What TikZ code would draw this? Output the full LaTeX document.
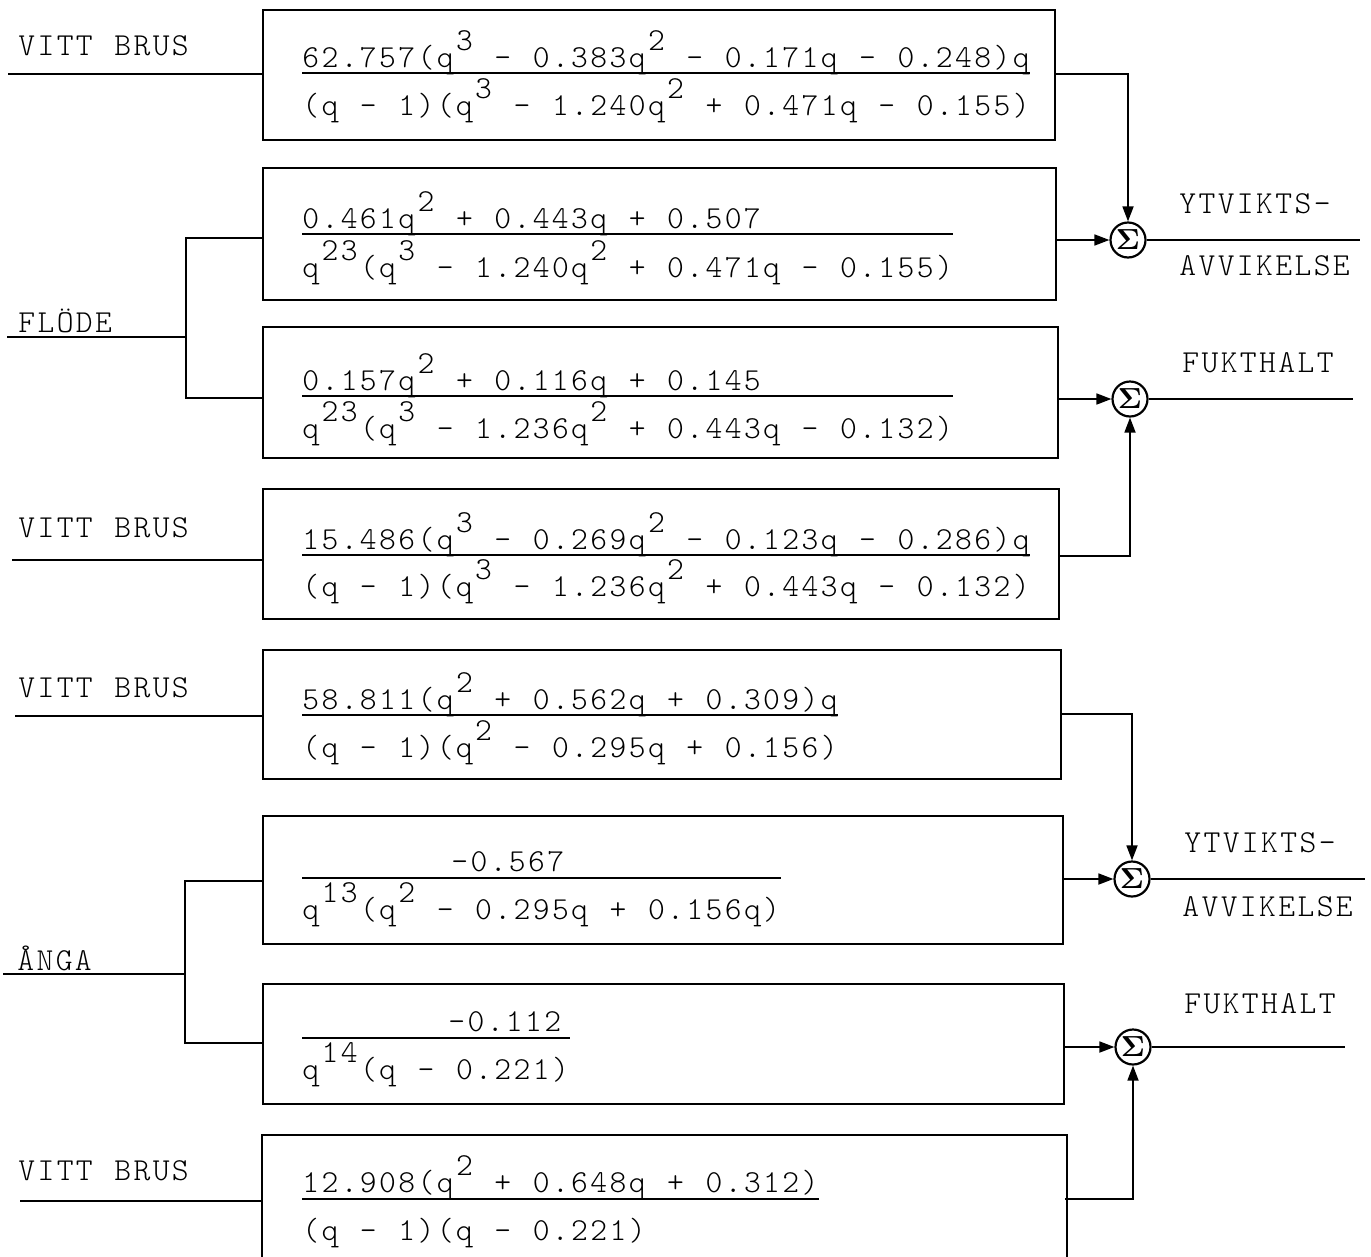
\documentclass[tikz,border=0pt]{standalone}
\usepackage{graphicx}
\usetikzlibrary{arrows.meta}
\newdimen\twpitch \twpitch=19.2pt
\newdimen\twraise \twraise=17pt
\makeatletter
\newcommand\tw[1]{\twloop#1\relax}
\def\twloop{\futurelet\twnext\twcheck}
\def\twcheck{%
  \ifx\twnext\relax \let\twdo\@gobble
  \else\ifx\twnext\@sptoken \let\twdo\twspace
  \else \let\twdo\twchar \fi\fi
  \twdo}
\def\twspace{\hbox to\twpitch{\hss}\afterassignment\twloop\let\twtmp= }
\def\twchar#1{\ifx#1^\expandafter\twsup\else\hbox to\twpitch{\hss#1\hss}\expandafter\twloop\fi}
\def\twsup#1{\hbox to\twpitch{\hss\smash{\raise\twraise\hbox{#1}}\hss}\twloop}
\makeatother
\newcommand\sumsign{\scalebox{2.9}{$\mathbf{\Sigma}$}}
\begin{document}
\begin{tikzpicture}[x=1pt,y=1pt,
  box/.style={draw, line width=2.2pt, inner sep=0pt, anchor=north west},
  txt/.style={inner sep=0pt, anchor=base west, font=\fontsize{32}{32}\ttfamily\fontseries{l}\selectfont},
  wire/.style={line width=1.7pt},
  arr/.style={line width=1.7pt, -{Triangle[length=15pt,width=11pt]}},
  fbar/.style={line width=1.4pt},
  sum/.style={draw, circle, line width=2.2pt, minimum size=35pt, inner sep=0pt}]
\useasboundingbox (0,0) rectangle (1371,-1256);

% boxes
\node[box, minimum width=792pt, minimum height=130pt] (b1) at (262,-9) {};
\node[box, minimum width=793pt, minimum height=132pt] (b2) at (262,-167) {};
\node[box, minimum width=795pt, minimum height=131pt] (b3) at (262,-326) {};
\node[box, minimum width=796pt, minimum height=130pt] (b4) at (262,-488) {};
\node[box, minimum width=798pt, minimum height=129pt] (b5) at (262,-649) {};
\node[box, minimum width=800pt, minimum height=128pt] (b6) at (262,-815) {};
\node[box, minimum width=801pt, minimum height=120pt] (b7) at (262,-983) {};
\node[box, draw=none, minimum width=803pt, minimum height=121pt] (b8) at (262,-1135) {};
\draw[line width=2.2pt] (b8.south west) -- (b8.north west) -- (b8.north east) -- (b8.south east);

% transfer functions
\node[txt] (n1) at (301,-67) {\tw{62.757(q^3 - 0.383q^2 - 0.171q - 0.248)q}};
\node[txt] (d1) at (301,-115) {\tw{(q - 1)(q^3 - 1.240q^2 + 0.471q - 0.155)}};
\draw[fbar] (302,-73) -- (1030,-73);

\node[txt] (n2) at (301,-228) {\tw{0.461q^2 + 0.443q + 0.507}};
\node[txt] (d2) at (301,-277) {\tw{q^2^3(q^3 - 1.240q^2 + 0.471q - 0.155)}};
\draw[fbar] (302,-234) -- (953,-234);

\node[txt] (n3) at (301,-390) {\tw{0.157q^2 + 0.116q + 0.145}};
\node[txt] (d3) at (301,-438) {\tw{q^2^3(q^3 - 1.236q^2 + 0.443q - 0.132)}};
\draw[fbar] (302,-396) -- (953,-396);

\node[txt] (n4) at (301,-549) {\tw{15.486(q^3 - 0.269q^2 - 0.123q - 0.286)q}};
\node[txt] (d4) at (301,-596) {\tw{(q - 1)(q^3 - 1.236q^2 + 0.443q - 0.132)}};
\draw[fbar] (302,-555) -- (1030,-555);

\node[txt] (n5) at (301,-709) {\tw{58.811(q^2 + 0.562q + 0.309)q}};
\node[txt] (d5) at (301,-757) {\tw{(q - 1)(q^2 - 0.295q + 0.156)}};
\draw[fbar] (302,-715) -- (838,-715);

\node[txt] (n6) at (450,-871) {\tw{-0.567}};
\node[txt] (d6) at (301,-919) {\tw{q^1^3(q^2 - 0.295q + 0.156q)}};
\draw[fbar] (302,-878) -- (781,-878);

\node[txt] (n7) at (447,-1031) {\tw{-0.112}};
\node[txt] (d7) at (301,-1079) {\tw{q^1^4(q - 0.221)}};
\draw[fbar] (302,-1038) -- (570,-1038);

\node[txt] (n8) at (301,-1192) {\tw{12.908(q^2 + 0.648q + 0.312)}};
\node[txt] (d8) at (301,-1240) {\tw{(q - 1)(q - 0.221)}};
\draw[fbar] (302,-1199) -- (819,-1199);

% input labels
\node[txt] (l1) at (17,-55) {\tw{VITT BRUS}};
\node[txt] (l2) at (17,-332) {\tw{FLÖDE}};
\node[txt] (l3) at (17,-537) {\tw{VITT BRUS}};
\node[txt] (l4) at (17,-697) {\tw{VITT BRUS}};
\node[txt] (l5) at (16,-970) {\tw{ÅNGA}};
\node[txt] (l6) at (17,-1180) {\tw{VITT BRUS}};

% output labels
\node[txt] (r1) at (1178,-213) {\tw{YTVIKTS-}};
\node[txt] (r2) at (1178,-275) {\tw{AVVIKELSE}};
\node[txt] (r3) at (1181,-372) {\tw{FUKTHALT}};
\node[txt] (r4) at (1183,-852) {\tw{YTVIKTS-}};
\node[txt] (r5) at (1181,-916) {\tw{AVVIKELSE}};
\node[txt] (r6) at (1183,-1013) {\tw{FUKTHALT}};

% summation points
\node[sum] (s1) at (1128,-240) {\sumsign};
\node[sum] (s2) at (1130,-399) {\sumsign};
\node[sum] (s3) at (1132,-879) {\sumsign};
\node[sum] (s4) at (1133,-1047) {\sumsign};

% input wires
\coordinate (i1) at (8,-74);
\draw[wire] (i1) -- (i1 -| b1.west);
\coordinate (iF) at (7,-337);
\coordinate (jF) at (186,-337);
\coordinate (jF1) at (186,-238);
\coordinate (jF2) at (186,-398);
\draw[wire] (iF) -- (jF);
\draw[wire] (jF1 -| b2.west) -- (jF1) -- (jF2) -- (jF2 -| b3.west);
\coordinate (i4) at (12,-560);
\draw[wire] (i4) -- (i4 -| b4.west);
\coordinate (i5) at (15,-716);
\draw[wire] (i5) -- (i5 -| b5.west);
\coordinate (iA) at (3,-974);
\coordinate (jA) at (185,-974);
\coordinate (jA1) at (185,-881);
\coordinate (jA2) at (185,-1043);
\draw[wire] (iA) -- (jA);
\draw[wire] (jA1 -| b6.west) -- (jA1) -- (jA2) -- (jA2 -| b7.west);
\coordinate (i8) at (20,-1201);
\draw[wire] (i8) -- (i8 -| b8.west);

% output wires
\coordinate (o1) at (1054,-74);
\coordinate (o4) at (1058,-556);
\coordinate (o5) at (1060,-714);
\coordinate (o8) at (1065,-1199);
\coordinate (e1) at (1360,-240);
\coordinate (e2) at (1353,-399);
\coordinate (e3) at (1365,-879);
\coordinate (e4) at (1345,-1047);

\draw[arr] (o1) -| (s1.north);
\draw[arr] (b2.east |- s1) -- (s1.west);
\draw[wire] (s1.east) -- (e1);

\draw[arr] (b3.east |- s2) -- (s2.west);
\draw[arr] (o4) -| (s2.south);
\draw[wire] (s2.east) -- (e2);

\draw[arr] (o5) -| (s3.north);
\draw[arr] (b6.east |- s3) -- (s3.west);
\draw[wire] (s3.east) -- (e3);

\draw[arr] (b7.east |- s4) -- (s4.west);
\draw[arr] (o8) -| (s4.south);
\draw[wire] (s4.east) -- (e4);
\end{tikzpicture}
\end{document}
